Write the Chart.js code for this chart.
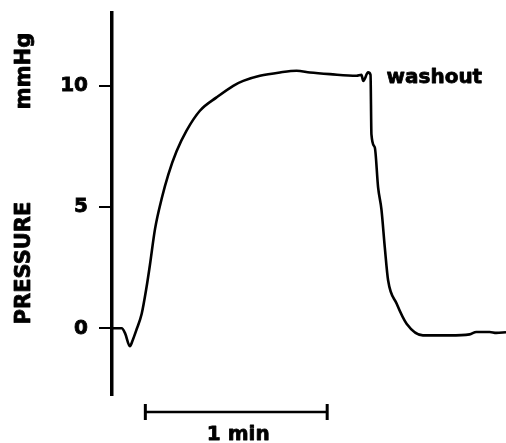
<!DOCTYPE html>
<html>
<head>
<meta charset="utf-8">
<script src="https://cdn.jsdelivr.net/npm/chart.js@4"></script>
<style>
  body { margin: 0; background: #fff; }
  #wrap { width: 506px; height: 443px; }
</style>
</head>
<body>
<div id="wrap"><canvas id="pressureChart" width="506" height="443"></canvas></div>
<script>
// time in seconds, pressure in mmHg
const times = [0, 3.2, 4.3, 5.9, 6.8, 8.1, 9.8, 11.4, 12.5, 14.2, 16.4, 18.6, 21.3, 24.6, 29.0, 34.5, 40.0, 43.3, 48.8, 55.4,
    60.9, 65.3, 71.9, 80.7, 82.3, 82.9, 84.5, 85.3, 85.6, 86.7, 87.8, 88.9, 90.0, 91.1, 93.9, 97.2, 102.6, 111.4, 118.0, 120.2,
    124.6, 126.8, 130];
const pressure = [0, 0, -0.2, -0.74, -0.5, -0.05, 0.6, 1.7, 2.6, 4.1, 5.35, 6.35, 7.3, 8.15, 8.97, 9.52, 10.0, 10.2, 10.41, 10.55,
    10.62, 10.55, 10.48, 10.41, 10.45, 10.2, 10.55, 10.45, 8.0, 7.46, 5.81, 4.9, 3.35, 1.98, 1.02, 0.19, -0.29, -0.29, -0.25, -0.15,
    -0.15, -0.19, -0.16];
const yTicks = [0, 5, 10];
const scaleBar = [11, 71];          // 1 min bar, seconds
const scaleBarLabel = '1 min';
const washoutTime = 85.3;
const washoutValue = 10.45;
const washoutLabel = 'washout';
const yTitle = 'PRESSURE';
const yUnit = 'mmHg';

const FAMILY = "'DejaVu Sans', Arial, sans-serif";

// filled + thin stroke, so the type looks as heavy as the scan
function heavyText(ctx, text, x, y) {
    ctx.strokeText(text, x, y);
    ctx.fillText(text, x, y);
}

const extras = {
    id: 'extras',
    afterDraw(chart) {
        const ctx = chart.ctx;
        const x = chart.scales.x;
        const y = chart.scales.y;
        const area = chart.chartArea;
        ctx.save();
        ctx.fillStyle = '#000';
        ctx.strokeStyle = '#000';

        // scale bar
        const x0 = x.getPixelForValue(scaleBar[0]);
        const x1 = x.getPixelForValue(scaleBar[1]);
        const by = area.bottom + 17;
        ctx.lineWidth = 2.5;
        ctx.beginPath();
        ctx.moveTo(x0, by);
        ctx.lineTo(x1, by);
        ctx.stroke();
        ctx.lineWidth = 3;
        ctx.beginPath();
        ctx.moveTo(x0, by - 8); ctx.lineTo(x0, by + 8);
        ctx.moveTo(x1, by - 8); ctx.lineTo(x1, by + 8);
        ctx.stroke();

        ctx.lineWidth = 0.8;
        ctx.lineJoin = 'round';
        ctx.font = 'bold 20px ' + FAMILY;
        ctx.textAlign = 'center';
        ctx.textBaseline = 'alphabetic';
        heavyText(ctx, scaleBarLabel, (x0 + x1) / 2 + 2, by + 28);

        // washout label
        ctx.textAlign = 'left';
        heavyText(ctx, washoutLabel, x.getPixelForValue(washoutTime) + 16, y.getPixelForValue(washoutValue) + 8);

        // y titles
        ctx.font = 'bold 21px ' + FAMILY;
        ctx.textAlign = 'center';
        ctx.textBaseline = 'middle';
        ctx.save();
        ctx.translate(25, 263);
        ctx.rotate(-Math.PI / 2);
        heavyText(ctx, yTitle, 0, 0);
        ctx.restore();
        ctx.save();
        ctx.translate(25, 71);
        ctx.rotate(-Math.PI / 2);
        heavyText(ctx, yUnit, 0, 0);
        ctx.restore();

        ctx.restore();
    }
};

new Chart(document.getElementById('pressureChart'), {
    type: 'line',
    data: {
        datasets: [{
            data: times.map((t, i) => ({ x: t, y: pressure[i] })),
            borderColor: '#000',
            borderWidth: 2.6,
            pointRadius: 0,
            cubicInterpolationMode: 'monotone',
            fill: false
        }]
    },
    options: {
        responsive: false,
        animation: false,
        layout: { padding: { left: 0, top: 13, right: 0, bottom: 48 } },
        plugins: { legend: { display: false }, tooltip: { enabled: false } },
        scales: {
            x: { type: 'linear', min: 0, max: 130, display: false },
            y: {
                min: -2.75,
                max: 13,
                afterBuildTicks: scale => { scale.ticks = yTicks.map(v => ({ value: v })); },
                afterFit: scale => {
                    scale.width = 112;
                    scale.paddingTop = 0;
                    scale.paddingBottom = 0;
                },
                border: { display: true, color: '#000', width: 3.5 },
                grid: { drawOnChartArea: false, drawTicks: true, tickLength: 13, color: '#000', lineWidth: 2 },
                ticks: {
                    color: '#000',
                    padding: 11,
                    textStrokeColor: '#000',
                    textStrokeWidth: 0.8,
                    font: { family: FAMILY, size: 20, weight: 'bold' }
                }
            }
        }
    },
    plugins: [extras]
});
</script>
</body>
</html>
